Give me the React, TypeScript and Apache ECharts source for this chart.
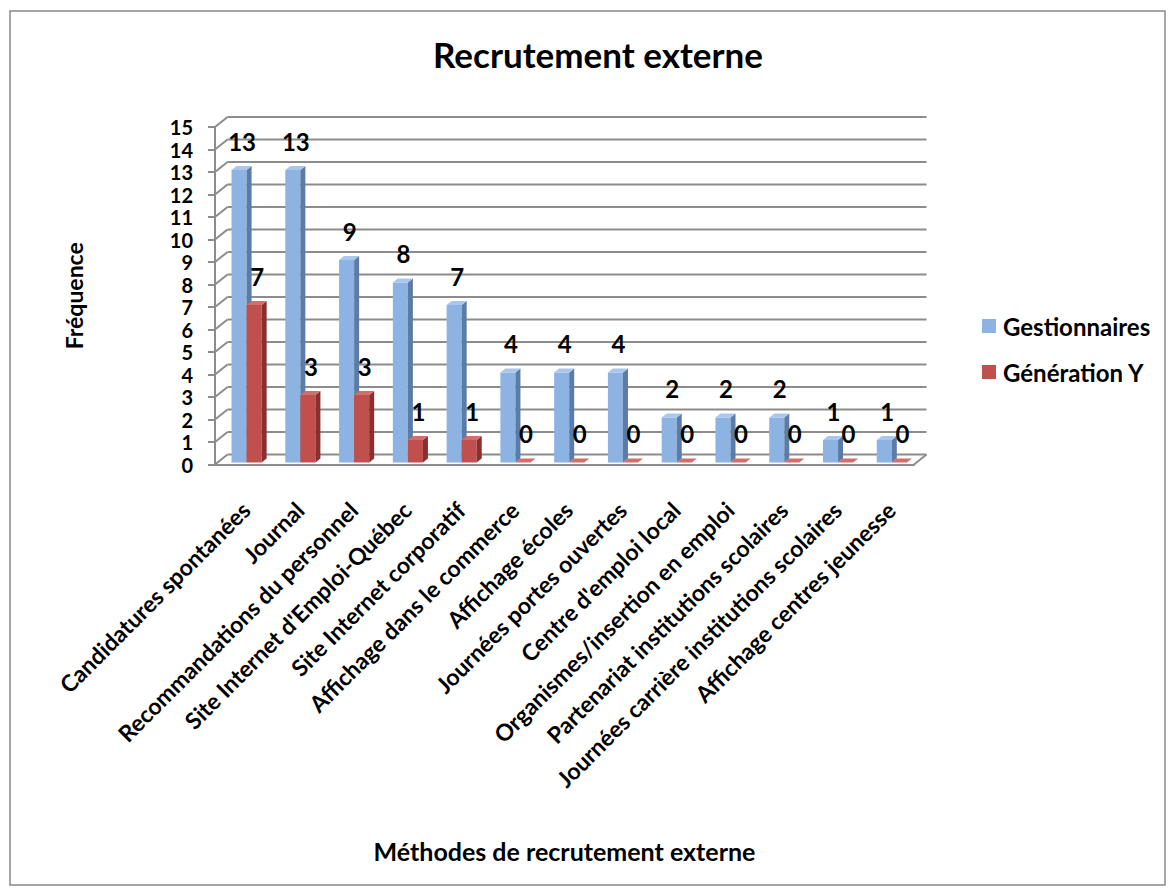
import React, { useEffect, useRef } from "react";
import * as echarts from "echarts";

const categories = [
  "Candidatures spontanées",
  "Journal",
  "Recommandations du personnel",
  "Site Internet d'Emploi-Québec",
  "Site Internet corporatif",
  "Affichage dans le commerce",
  "Affichage écoles",
  "Journées portes ouvertes",
  "Centre d'emploi local",
  "Organismes/insertion en emploi",
  "Partenariat institutions scolaires",
  "Journées carrière institutions scolaires",
  "Affichage centres jeunesse",
];
const gestionnaires = [13, 13, 9, 8, 7, 4, 4, 4, 2, 2, 2, 1, 1];
const generationY = [7, 3, 3, 1, 1, 0, 0, 0, 0, 0, 0, 0, 0];
const yTicks = [0, 1, 2, 3, 4, 5, 6, 7, 8, 9, 10, 11, 12, 13, 14, 15];

const FONT = "Lato, 'Open Sans', sans-serif";
const GRID_COLOR = "#8c8c8c";

// pseudo-3D geometry (pixels)
const WALL_DX = 12.5;
const WALL_DY = -10;
const BAR_OFF_DX = 4.7;
const BAR_OFF_DY = -2;
const BAR_DEPTH_DX = 5;
const BAR_DEPTH_DY = -4;
const BAR_FRAC = 0.28;

type Faces = { front: string; side: string; top: string };
const BLUE: Faces = { front: "#8db3e2", side: "#5b7ca8", top: "#a9c6ec" };
const RED: Faces = { front: "#c0504d", side: "#8a2f2d", top: "#cf6e6b" };

function barRenderer(slot: number, faces: Faces) {
  return (params: any, api: any) => {
    const idx = api.value(0);
    const v = api.value(1);
    const base = api.coord([idx, 0]);
    const top = api.coord([idx, v]);
    const band = api.size([1, 0])[0];
    const w = band * BAR_FRAC;
    const x0 = base[0] + BAR_OFF_DX + (slot === 0 ? -w : 0);
    const yB = base[1] + BAR_OFF_DY;
    const yT = top[1] + BAR_OFF_DY;
    const bdx = BAR_DEPTH_DX;
    const bdy = BAR_DEPTH_DY;
    return {
      type: "group",
      children: [
        {
          type: "rect",
          shape: { x: x0, y: yT, width: w, height: yB - yT },
          style: { fill: faces.front },
        },
        {
          type: "polygon",
          shape: {
            points: [
              [x0 + w, yT],
              [x0 + w + bdx, yT + bdy],
              [x0 + w + bdx, yB + bdy],
              [x0 + w, yB],
            ],
          },
          style: { fill: faces.side },
        },
        {
          type: "polygon",
          shape: {
            points: [
              [x0, yT],
              [x0 + bdx, yT + bdy],
              [x0 + w + bdx, yT + bdy],
              [x0 + w, yT],
            ],
          },
          style: { fill: faces.top },
        },
        {
          type: "text",
          style: {
            x: x0 + w / 2 + 3,
            y: yT - 29,
            text: String(v),
            fill: "#000",
            font: `bold 24px ${FONT}`,
            align: "center",
            verticalAlign: "middle",
          },
        },
      ],
    };
  };
}

function wallRenderer(params: any, api: any) {
  const cs = params.coordSys;
  const v = api.value(1);
  const y = api.coord([0, v])[1];
  const left = cs.x;
  const right = cs.x + cs.width;
  const style = { stroke: GRID_COLOR, lineWidth: 2 };
  const children: any[] = [
    { type: "line", shape: { x1: left + WALL_DX, y1: y + WALL_DY, x2: right + WALL_DX, y2: y + WALL_DY }, style },
    { type: "line", shape: { x1: left, y1: y, x2: left + WALL_DX, y2: y + WALL_DY }, style },
  ];
  if (v === 0) {
    children.push({ type: "line", shape: { x1: right, y1: y, x2: right + WALL_DX, y2: y + WALL_DY }, style });
  }
  return { type: "group", children };
}

export default function App() {
  const ref = useRef<HTMLDivElement>(null);

  useEffect(() => {
    if (!ref.current) return;
    const chart = echarts.init(ref.current, undefined, { renderer: "svg" });
    chart.setOption({
      animation: false,
      backgroundColor: "#fff",
      textStyle: { fontFamily: FONT },
      title: {
        text: "Recrutement externe",
        left: 593,
        top: 31,
        textAlign: "center",
        textStyle: { fontFamily: FONT, fontSize: 35, fontWeight: "bold", color: "#000" },
      },
      graphic: [
        {
          type: "rect",
          shape: { x: 10, y: 11, width: 1155, height: 874 },
          style: { fill: "none", stroke: "#898989", lineWidth: 1.5 },
          silent: true,
        },
      ],
      legend: {
        orient: "vertical",
        left: 977,
        top: 309,
        itemWidth: 14,
        itemHeight: 14,
        itemGap: 22,
        icon: "rect",
        data: ["Gestionnaires", "Génération Y"],
        textStyle: { fontFamily: FONT, fontSize: 24, fontWeight: "bold", color: "#000", padding: [0, 0, 0, 2] },
      },
      grid: { left: 215, right: 258, top: 127, bottom: 431.5 },
      xAxis: {
        type: "category",
        data: categories,
        name: "Méthodes de recrutement externe",
        nameLocation: "middle",
        nameGap: 374,
        nameTextStyle: { fontFamily: FONT, fontSize: 25, fontWeight: "bold", color: "#000" },
        axisLine: { show: true, lineStyle: { color: GRID_COLOR, width: 2 } },
        axisTick: { show: false },
        axisLabel: {
          interval: 0,
          rotate: 45,
          margin: 29,
          verticalAlign: "top",
          padding: [0, 6, 0, 0],
          fontFamily: FONT,
          fontSize: 23,
          fontWeight: "bold",
          color: "#000",
        },
      },
      yAxis: {
        type: "value",
        min: 0,
        max: 15,
        interval: 1,
        name: "Fréquence",
        nameLocation: "middle",
        nameRotate: 90,
        nameGap: 130,
        nameTextStyle: { fontFamily: FONT, fontSize: 23, fontWeight: "bold", color: "#000" },
        axisLine: { show: true, lineStyle: { color: GRID_COLOR, width: 2 } },
        axisTick: { show: true, length: 7, lineStyle: { color: GRID_COLOR, width: 2 } },
        splitLine: { show: false },
        axisLabel: { margin: 22, fontFamily: FONT, fontSize: 20, fontWeight: "bold", color: "#000" },
      },
      series: [
        {
          type: "custom",
          name: "walls",
          silent: true,
          clip: false,
          z: 1,
          renderItem: wallRenderer,
          data: yTicks.map((v) => [0, v]),
        },
        {
          type: "custom",
          name: "Gestionnaires",
          clip: false,
          z: 2,
          itemStyle: { color: BLUE.front },
          renderItem: barRenderer(0, BLUE),
          data: gestionnaires.map((v, i) => [i, v]),
        },
        {
          type: "custom",
          name: "Génération Y",
          clip: false,
          z: 3,
          itemStyle: { color: RED.front },
          renderItem: barRenderer(1, RED),
          data: generationY.map((v, i) => [i, v]),
        },
      ],
    });
    return () => chart.dispose();
  }, []);

  return (
    <div
      ref={ref}
      style={{ position: "fixed", left: 0, top: 0, width: 1172, height: 896, background: "#fff" }}
    />
  );
}
